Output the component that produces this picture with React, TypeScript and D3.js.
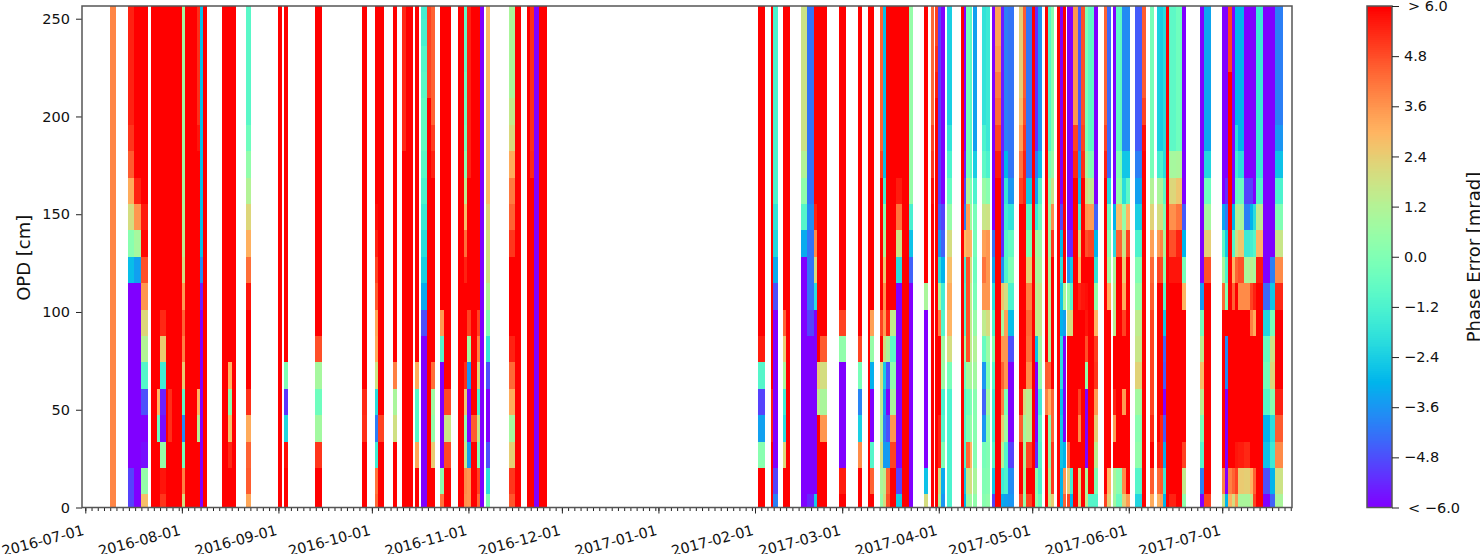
import { useEffect, useRef } from 'react';
import * as d3 from 'd3';

const W = 1480, H = 554;
const plot = { left: 82, right: 1292, top: 6, bottom: 507.5 };
const bar = { left: 1367, right: 1392 };
const FONT = '"DejaVu Sans", sans-serif';

// OPD of each row, bottom to top [cm]
const opd = [0, 13.5, 27, 40.5, 54, 67.5, 81, 94.5, 108, 121.5, 135, 148.5, 162, 175.5, 189, 202.5, 216, 229.5, 243, 256.5];
const yTicks = [0, 50, 100, 150, 200, 250];
const barTicks = [-6, -4.8, -3.6, -2.4, -1.2, 0, 1.2, 2.4, 3.6, 4.8, 6];
const barLabels = ['< \u22126.0', '\u22124.8', '\u22123.6', '\u22122.4', '\u22121.2', '0.0', '1.2', '2.4', '3.6', '4.8', '> 6.0'];
const monthTicks = ['2016-07-01', '2016-08-01', '2016-09-01', '2016-10-01', '2016-11-01', '2016-12-01', '2017-01-01', '2017-02-01', '2017-03-01', '2017-04-01', '2017-05-01', '2017-06-01', '2017-07-01'];

const hi = [6, 6, 6, 6, 6, 6, 6, 6, 6, 6, 6, 6, 6, 6, 6, 6, 6, 6, 6, 6];
const lo = [-6, -6, -6, -6, -6, -6, -6, -6, -6, -6, -6, -6, -6, -6, -6, -6, -6, -6, -6, -6];

// observation spans, days after 2016-07-01
const obsSpans = [
  [8, 10], [13.7, 15.7], [15.7, 17.9], [17.9, 20], [21, 23], [23, 24], [24, 26], [26, 26.6], [26.6, 27.7], [27.7, 31],
  [31, 32], [32, 35.8], [35.8, 36.8], [36.8, 37.8], [37.8, 39], [43.9, 45.9], [45.9, 47], [47, 48.3], [51.6, 53.1], [61.9, 63.1], [63.8, 65.2],
  [73.7, 76.1], [88.8, 90.3], [93, 94.1], [94.1, 96], [98.8, 100.1], [101.8, 102.9], [102.9, 105.2], [105.9, 107.2], [107.9, 109.8], [109.8, 111], [111, 112.3],
  [113.9, 115], [115, 117.3], [119.8, 121.7], [121.7, 122.7], [122.7, 123.8], [123.8, 125.7], [125.7, 126.6], [126.6, 127.9], [128.6, 130],
  [136, 137.9], [137.9, 140], [141.8, 142.8], [142.8, 143.9], [143.9, 145.8], [145.8, 148.2],
  [216, 218.3], [220, 220.9], [220.9, 222.3], [224, 225], [225, 226.3], [229.8, 231.8], [231.8, 233.8], [233.8, 234.9], [234.9, 236], [236, 238.2],
  [242, 244.3], [248, 249.4], [251.2, 251.8], [251.8, 253.2], [255, 256], [256, 257.1], [257.1, 258.2], [258.2, 260.3], [260.3, 262.3], [262.3, 264.3], [264.3, 265.7],
  [269.1, 270.4], [271.5, 272.5],
  [272.8, 273.8], [273.8, 274.8], [274.8, 276.1], [276.8, 278.1], [281, 282], [282, 282.9], [282.9, 283.9], [283.9, 284.8], [284.9, 286.3], [288, 289.1],
  [289.1, 290.4], [291, 292], [292, 294], [294, 295], [295, 296.1], [296.2, 298.2], [299.9, 301], [301, 302], [302, 304], [304, 304.9],
  [304.9, 305.8], [305.8, 307.3], [308, 309.1], [309.1, 310], [310, 311.1], [312, 313], [313, 314], [314, 315], [315.1, 316.1], [316.1, 317],
  [317, 318.8], [318.8, 319.8], [319.8, 320.8], [320.8, 321.8], [321.8, 323.8], [323.8, 325.2], [327, 327.9], [327.9, 329.3], [330, 331], [331, 332.9],
  [332.9, 334], [334, 335.3], [337, 339.2], [339.2, 340.5], [341.8, 343], [344, 345], [345, 346], [346, 347], [347, 348], [348, 350],
  [350, 352], [352, 353.3], [358, 359], [359, 361.4], [365, 366], [366, 367], [367, 368], [368, 369.2],
  [369.2, 370], [370, 372], [372, 374], [374, 375], [375, 376], [376, 378], [378, 380.2], [380.2, 382.1], [382.1, 384.5],
];

// phase error per span, OPD rows bottom to top [mrad]
const phaseError = [
  [3.9, 3.9, 3.9, 3.9, 3.9, 3.9, 3.9, 3.9, 3.9, 3.9, 3.9, 3.9, 3.9, 3.9, 3.9, 3.9, 3.9, 3.9, 3.9, 3.9],
  [-5, -5, -6, -6, -6, -6, -6, -6, -6, -2.8, 0.2, 2, 3.2, 4.6, 5.2, 5.5, 5.5, 5.5, 5.5, 5.5],
  [-6, -6, -6, -6, -6, -6, -6, -6, -6, -3.4, 0.9, 3.6, 5.5, 6, 6, 6, 6, 6, 6, 6],
  [2.8, 0.5, -5.8, -6, -4.8, -1, 1.2, 2.2, 3.6, 4.8, 5.9, 5.6, 6, 6, 6, 6, 6, 6, 6, 6],
  hi,
  [6, 6, 6, -0.5, 3, 6, 6, 6, 6, 6, 6, 6, 6, 6, 6, 6, 6, 6, 6, 6],
  [5.2, 5.7, 0.5, -5.8, -5.5, -1.5, 2.5, 5.4, 6, 6, 6, 6, 6, 6, 6, 6, 6, 6, 6, 6],
  hi,
  [6, 6, 6, 5.3, 5.3, 6, 6, 6, 6, 6, 6, 6, 6, 6, 6, 6, 6, 6, 6, 6],
  hi,
  [2, 4, -0.3, -3.8, -0.8, 2.5, 4, 4.5, 3.5, 2, 1.5, 1.2, 1, 0.8, 0.8, 0.8, 0.8, 0.8, 0.8, 0.8],
  hi,
  [6, 6, 6, 1.3, 3, 6, 6, 6, 6, 6, 6, 6, 6, 6, 5.7, 5.3, 5.3, 5.3, 5.3, 5.3],
  [-6, -6, -6, -6, -6, -6, -6, -6, -5.5, -3.8, -2.8, -2.8, -2.8, -2.8, -2.8, -2.8, -2.8, -2.8, -2.8, -2.8],
  hi,
  hi,
  [6, 6, 5.4, 2.7, 0.3, 3, 6, 6, 6, 6, 6, 6, 6, 6, 6, 6, 6, 6, 6, 6],
  hi,
  [3.3, 4.6, 4.5, 3.2, 5.3, 6, 6, 6, 5.7, 4.3, 3.1, 2.2, 1.2, 0.4, -0.4, -0.9, -0.9, -0.9, -0.9, -0.9],
  hi,
  [6, 6, 5.8, -2.2, -5.2, 0, 6, 6, 6, 6, 6, 6, 6, 6, 6, 6, 6, 6, 6, 6],
  [6, 6, 5.2, 0.8, -0.4, 0.9, 4.8, 6, 6, 6, 6, 6, 6, 6, 6, 6, 6, 6, 6, 6],
  [6, 6, 6, 5.3, 5.4, 6, 6, 6, 6, 6, 6, 6, 6, 6, 6, 6, 6, 6, 6, 6],
  [4.4, 4.2, -1.5, -4, -2, 1.8, 3.2, 3.3, 4.6, 5, 5.5, 5.8, 6, 6, 6, 6, 6, 6, 6, 6],
  [6, 6, 6, 5, 6, 6, 6, 6, 6, 6, 6, 6, 6, 6, 6, 6, 6, 6, 6, 6],
  [6, 6, 6, 1.9, 1, 4, 6, 6, 6, 6, 6, 6, 6, 6, 6, 6, 6, 6, 6, 6],
  [6, 6, 6, 6, 6, 6, 6, 6, 6, 6, 6, 6, 6, 6, 5.4, 5.4, 5.4, 5.4, 5.4, 5.4],
  hi,
  [6, 6, 3.3, -1, -1, 3.2, 6, 6, 6, 6, 6, 6, 6, 6, 6, 6, 6, 6, 6, 6],
  [-6, -6, -6, -6, -6, -6, -6, -4.8, -3.2, -2.4, -2, -1.6, -1.2, -0.9, -0.7, -0.7, -0.9, -1, -1.3, -1.4],
  [6, 6, 6, 6, 6, 6, 6, 6, 6, 6, 6, 6, 6, 6, 6, 6, 5, 5, 5, 5],
  [6, 6, 2.5, 0.5, 0.8, 4.3, 6, 6, 6, 6, 6, 6, 6, 5.5, 5.1, 4.5, 4.5, 4.5, 4.5, 4.5],
  [4.2, 0.3, -6, -6, -6, -6, -1, 3.5, 6, 6, 6, 6, 6, 6, 6, 6, 6, 6, 6, 6],
  [6, 6, 4.9, 1.8, 4.9, 6, 6, 6, 6, 6, 6, 6, 6, 6, 6, 6, 6, 6, 6, 6],
  hi,
  [3.7, 3.8, 1.5, 0.4, 2.5, 5.3, 6, 6, 6, 5.5, 4.3, 2.8, 1.5, 0.2, -0.3, -0.5, -0.6, -0.8, -0.8, -0.8],
  [3.6, 3.6, -3.5, -6, -6, -3.6, 0.8, 5, 6, 6, 6, 6, 6, 5.5, 5.5, 5.5, 5.5, 5.5, 5.5, 5.5],
  [6, 6, 6, 4.6, 6, 6, 6, 6, 6, 6, 6, 6, 6, 6, 6, 6, 6, 6, 6, 6],
  [4.4, 5, 0, 1.6, -1.2, 2.2, 4, 5, 6, 6, 6, 6, 6, 6, 6, 6, 6, 6, 6, 6],
  lo,
  [0, -2, -4.8, -6, -6, -4.8, -1.8, 0.1, 1.2, 1.9, 2, 2.3, 2.9, 2.9, 2.9, 2.9, 2.9, 2.9, 2.9, 2.9],
  [4.7, 5.2, 2.4, 0.9, 3.2, 4.4, 5.5, 6, 6, 6, 5.2, 4.5, 4.1, 3.2, 2.1, 1.6, 1, 1, 1, 1],
  hi,
  hi,
  [6, 6, 6, 6, 6, 6, 6, 6, 6, 6, 6, 6, 6, 5.4, 5.3, 5.3, 5.3, 5.3, 5.3, 5.3],
  lo,
  hi,
  [6, 6, 0.2, -3.4, -5, -1, 5.6, 6, 6, 6, 6, 6, 6, 6, 6, 6, 6, 6, 6, 6],
  [6, 6, 6, 5.5, 5.5, 6, 6, 6, 6, 6, 6, 6, 6, 6, 6, 6, 6, 6, 6, 6],
  [-4, -5, -6, -6, -6, -6, -6, -6, -4.8, -3.2, -2.2, -1.8, -1.2, -1.2, -1.2, -1.2, -1.2, -1.2, -1.2, -1.2],
  [6, 6, 2.2, -2, -1.5, 1, 2.5, 4.5, 6, 6, 6, 6, 6, 6, 6, 6, 6, 6, 6, 6],
  hi,
  [-6, -6, -6, -6, -6, -6, -6, -6, -6, -6, -3.2, -1, 0.4, 1.2, 1.8, 1.8, 1.8, 1.8, 1.8, 1.8],
  [-5.5, -6, -6, -6, -6, -6, -6, -5, -4.2, -4.2, -4.2, -3.8, -4.2, -4.2, -4.2, -4.2, -4.2, -4.2, -4.2, -4.2],
  [-2.5, -6, -6, -6, -6, -6, -6, -6, -2, 2, 3.8, 5.5, 6, 6, 6, 6, 6, 6, 6, 6],
  [6, 6, 6, 6, 1.5, 2.5, 6, 6, 6, 6, 6, 6, 6, 6, 6, 6, 6, 6, 6, 6],
  [6, 6, 6, 3.6, 1, 2, 4.6, 6, 6, 6, 6, 6, 6, 6, 6, 6, 6, 6, 6, 6],
  [6, 5.6, -6, -6, -6, -6, 0.4, 5, 6, 6, 6, 6, 6, 6, 6, 6, 6, 6, 6, 6],
  [6, 6, 3.8, -2.4, -3.9, -0.2, 5, 6, 6, 6, 6, 6, 6, 6, 6, 6, 6, 6, 6, 6],
  hi,
  [6, 4.5, -1, -6, -6, -3.1, 0.5, 3.4, 6, 6, 6, 6, 6, 6, 6, 6, 6, 6, 6, 6],
  [0.5, 1, 1.9, 0.9, 1.5, 2, 6, 5, 6, 6, 6, 6, 6, 5, 4.5, 4.5, 4.5, 4.5, 4.5, 4.5],
  [2, 1.5, -3.5, -4, -3.5, -2.5, 1.9, 3.5, 3.7, 2.5, 1, 0, -1.5, -2.8, -2.8, -2.8, -2.8, -2.8, -2.8, -2.8],
  [4.8, 4.5, -3.5, -4.8, -6, -4.8, 1, 5.5, 6, 6, 6, 6, 6, 6, 6, 6, 6, 6, 6, 6],
  [6, 6, 5, 3.6, 1, 0.4, -0.8, 1.6, 6, 6, 6, 6, 6, 6, 6, 6, 6, 6, 6, 6],
  [-2.5, -5, -6, -6, -6, -6, -6, -6, -6, -2, 1.8, 4.2, 5.6, 6, 6, 6, 6, 6, 6, 6],
  hi,
  [-6, -6, -6, -6, -6, -6, -6, -6, -6, -4.5, -2.7, -1.3, 0.5, 0.5, 0.5, 0.5, 0.5, 0.5, 0.5, 0.5],
  [2, -2.7, -6, -6, -6, -6, -6, -6, 1, 6, 6, 6, 6, 6, 6, 6, 6, 6, 6, 6],
  [6, 6, 6, 6, 6, 6, 6, 6, 6, 6, 6, 6, 5.8, 5.2, 5, 4.4, 4.4, 4.4, 4.4, 4.4],
  [6, 6, 6, 6, 6, 6, 6, 6, 6, 6, 6, 6, 6, 6, 6, 6, 5.6, 5.3, 5, 5],
  [1, 2, 5.5, 5.5, 6, 6, 6, 4, 1, -2, -3.6, -4.5, -5, -5, -5, -5, -5, -5, -5, -5],
  [-3.6, -3.2, 0, -1, -1.2, 0.7, 0.8, -1, -1.4, -3, -4.5, -5, -6, -6, -6, -6, -6, -6, -6, -6],
  [-1.2, -1.2, -1.2, -1.2, -1.2, -0.2, 2, 3, 3.2, 2.8, 2, 0.5, -0.6, -1.2, -1.8, -2.4, -2.4, -2.4, -2.4, -2.4],
  hi,
  [-3, -2.6, -1.2, -1, -1, -0.4, 0.6, -1, -1.2, -1.4, 2.8, -4, -5, -5.6, -6, -6, -6, -6, -6, -6],
  [0.6, 1.6, 4.4, 0, -0.4, 0.8, 4.8, 4.8, 4.8, 4.8, 3.2, 3.4, 1.2, -0.2, -0.2, -0.2, -0.2, -0.2, -0.2, -0.2],
  [0.8, 2, 3, 0.5, 0, 1, 1.5, 1.5, 1.5, 2, 3, 0.8, 0, -0.8, -0.8, -0.8, -0.8, -0.8, -0.8, -0.8],
  [0.4, 1, 0.2, 0.2, 0.2, 0.8, 1.2, 0.5, -0.2, -0.4, -0.2, -0.2, -1.2, -2.4, -3.4, -3.4, -3.4, -3.4, -3.4, -3.4],
  [0.2, 0, -0.2, -3.6, -4.5, -3.6, -0.6, 1.5, 3.6, 4.2, 3.4, 1.7, 0.6, -0.8, -1.2, -1.8, -1.8, -1.8, -1.8, -1.8],
  [0.4, 0.1, 0, 0.2, 0.8, 0, 0.6, 2, 3.6, 3.6, 3.6, 1.8, 0.2, -1.2, -1.6, -1.6, -1.6, -1.6, -1.6, -1.6],
  [-5, -2.6, -1, -1.5, -1.5, -1, 0, -1.2, -2, -3.4, -4.3, -6, -6, -6, -6, -6, -6, -6, -6, -6],
  [6, 6, 6, 6, 6, 6, 6, 6, 6, 6, 6, 6, 6, 5.6, 5, 4.4, 4.1, 3.6, 3.4, 3.4],
  [-3.2, -1.5, 1.2, 2.5, 4, 4.5, 3.6, 1, 2.6, -3.8, -5.4, -5.6, -5.6, -5.6, -5.6, -5.6, -5.6, -5.6, -5.6, -5.6],
  [-3.4, -1.2, -1, 0.8, 0, 3.6, 3.6, 3.4, 2, -1.1, -1, -1.5, -1.8, -3, -4, -4, -4, -4, -4, -4],
  [-3.6, -3.8, -5, -6, -6, -6, -4.8, -2.8, -1.2, 0, -0.6, -1.8, -3.6, -4.2, -4.2, -4.2, -4.2, -4.2, -4.2, -4.2],
  [5, 6, 6, 4.6, 5.8, 6, 6, 6, 6, 6, 6, 6, 5, 4.2, 3.4, 2.8, 2.4, 2.4, 2.4, 2.4],
  [0.4, 0.8, 1, 0.8, 2, 6, 6, 6, 6, 6, 6, 6, 5.5, 5.5, 5.2, 4.8, 4.6, 4.6, 4.6, 4.6],
  [5, 6, 5, 1.4, 1.4, 3.8, 4.3, 4.4, 4, 2.4, 0, -0.8, -2.6, -4.2, -4.2, -4.2, -4.2, -4.2, -4.2, -4.2],
  hi,
  [0.4, 0.2, -5.4, -6, -6, -6, -2.8, 1.6, 1.4, 1, 0.8, -1.6, -3.5, -4.2, -5.4, -5.4, -5.4, -5.4, -5.4, -5.4],
  [-0.6, -1.2, -1, -0.8, -1.5, 0.4, 0.8, 1.6, 1.6, 1, 0.6, -0.4, -1, -2.8, -3.6, -3.6, -3.6, -3.6, -3.6, -3.6],
  [6, 6, 6, 6, 4, 4.6, 6, 6, 6, 6, 6, 6, 6, 6, 6, 6, 6, 6, 6, 6],
  [1.5, 1, 0.3, 0.2, 3, 4.5, 1, 1.2, 1.2, 1, 0.6, 0.6, 0.2, -0.2, -1, -1, -1, -1, -1, -1],
  [2.5, 5.2, 5.2, 4.5, 4.5, 6, 6, 6, 6, 6, 5.2, 3.8, 1.8, 0.6, 0.2, 0.2, 0.2, 0.2, 0.2, 0.2],
  hi,
  [-3, -3, -2.6, -2.6, -2.8, -2, -2, -3, -2.6, -2, -3, -5, -6, -6, -6, -6, -6, -6, -6, -6],
  [4.5, 3.6, -3, -6, -6, -6, -6, -3.4, 1, 6, 6, 6, 6, 6, 6, 6, 6, 6, 6, 6],
  [5, 2.4, 4.5, 6, 6, 6, 6, 2, 0.6, -3.6, -5.4, -6, -6, -6, -6, -6, -6, -6, -6, -6],
  [-3, -1.4, 6, 6, 6, 6, 6, 2, -1, -2.6, -5.4, -6, -6, -6, -6, -6, -6, -6, -6, -6],
  [6, 6, 6, 6, 6, 6, 6, 6, 6, 6, 6, 6, 6, 5.4, 5, 3.6, 3.6, 3.6, 3.6, 3.6],
  [2, 1.8, 6, 3.8, 5, 6, 6, 6, 5.5, 3, 2, -1.3, -2.8, -3.6, -4.6, -4.6, -4.6, -4.6, -4.6, -4.6],
  [6, 6, 6, 6, 6, 6, 6, 6, 5.7, 6, 6, 6, 6, 5.3, 5, 4.8, 4.8, 4.8, 4.8, 4.8],
  [1.5, 1, -6, -6, -6, 0.4, 4.8, 5.7, 5.8, 6, 4.8, 3.6, 2, 1, 0, 0, 0, 0, 0, 0],
  [-1, 6, 6, 6, 6, 6, 6, 6, 6, 6, 5, 3.5, 1.5, 0, -0.8, -0.8, -0.8, -0.8, -0.8, -0.8],
  [-1, 0, 1.4, 2.4, 3.5, 5.2, 5.1, 3, 0.4, -1.8, -3, -4.5, -6, -6, -6, -6, -6, -6, -6, -6],
  [5, 6, 6, 6, 6, 6, 6, 6, 6, 6, 6, 6, 6, 5.5, 5, 4.5, 4.5, 4.5, 4.5, 4.5],
  [2.4, 3, 6, 6, 6, 6, 6, 6, 3.2, 0.8, 0.2, -0.5, -2.2, -4.4, -4.4, -4.4, -4.4, -4.4, -4.4, -4.4],
  [0.8, 1, 6, 3.5, 5.5, 6, 6, 1.5, 1.5, 1, -2, -3, -6, -6, -6, -6, -6, -6, -6, -6],
  [-0.5, 0.2, 6, 6, 6, 6, 6, 6, 6, 6, 4.5, 2.8, 0.4, 0, -0.8, -0.8, -0.8, -0.8, -0.8, -0.8],
  [2.4, 3.8, 6, 6, 3.5, 6, 6, 5, 3.2, 2.5, 1.7, 0.5, -2, -2.6, -3.8, -3.8, -3.8, -3.8, -3.8, -3.8],
  [3.5, 6, 6, 6, 6, 6, 6, 6, 6, 6, 5, 3, -0.8, -2.6, -3.8, -3.8, -3.8, -3.8, -3.8, -3.8],
  [-2.2, -1, 0.4, 0.2, 0.8, 2.3, 1.7, 1.5, 0.6, 0, -1.2, -2.4, -3.4, -4, -4.6, -4.6, -4.6, -4.6, -4.6, -4.6],
  [6, 6, 6, 6, 6, 6, 6, 6, 6, 6, 6, 6, 6, 6, 5.8, 5, 4.6, 4.6, 4.6, 4.6],
  [3.2, 4.6, 6, 5.4, 5, 5, 5, 5, 4.6, 4.4, 3.4, 2.3, 1.2, -0.2, -0.2, -0.2, -0.2, -0.2, -0.2, -0.2],
  [3, 4.4, 5.6, 6, 6, 6, 6, 6, 6, 5, 3.5, 2, 1, -1.4, -2.4, -2.4, -2.4, -2.4, -2.4, -2.4],
  [3.4, 4.6, 5.4, 5.4, 6, 6, 6, 6, 6, 4.9, 3.9, 2, 1, -1.2, -2.4, -2.4, -2.4, -2.4, -2.4, -2.4],
  [-3, -1.6, -3.2, -4.6, -6, -4.6, -4.4, -2.6, -1, 0.2, 1, 0, -0.8, -2, -2, -2, -2, -2, -2, -2],
  hi,
  [5.5, 6, 6, 6, 6, 6, 6, 6, 6, 5.7, 4.8, 3.7, 2.2, 0.9, -0.8, -0.8, -0.8, -0.8, -0.8, -0.8],
  [6, 6, 6, 6, 6, 6, 6, 6, 6, 5.7, 5.5, 4.2, 2.6, 1, -0.4, -0.4, -0.4, -0.4, -0.4, -0.4],
  [0.4, 1.6, 5, 6, 6, 6, 6, 6, 3, -0.2, -3, -4.6, -6, -6, -6, -6, -6, -6, -6, -6],
  [-6, -4, -1, -0.2, 1.4, 2.8, 1.4, -0.3, -3.5, -6, -6, -6, -6, -6, -6, -6, -6, -6, -6, -6],
  [5, 6, 6, 6, 6, 6, 6, 6, 6, 4.8, 2.4, 0.9, -0.4, -2.2, -3.3, -3.3, -3.3, -3.3, -3.3, -3.3],
  [1.8, 4, 6, 6, 6, 6, 6, 6, 4.4, 1, -0.8, -3.3, -6, -6, -6, -6, -6, -6, -6, -6],
  [-3, -6, -6, -6, -6, -3.8, -3.8, 6, 0, -1.2, -2.5, -4, -5.4, -6, -6, -6, -6, -6, -6, -6],
  [3, 4, 6, 6, 6, 6, 6, 6, 6, 6, 6, 6, 6, 6, 6, 6, 6, 5, 5, 5],
  [2, 4.5, 6, 6, 6, 6, 6, 6, 4.5, 3, -1, -3, -6, -6, -6, -6, -6, -6, -6, -6],
  [3.5, 5, 5.7, 6, 6, 6, 6, 6, 6, 4.5, 2, 1.3, -0.6, -1.4, -2, -3, -3, -3, -3, -3],
  [1, 2.5, 5.6, 6, 6, 6, 6, 6, 3.8, 4.8, 2.6, 1, -0.5, -2, -3, -3, -3, -3, -3, -3],
  [1, 2.4, 5.4, 6, 6, 6, 6, 6, 3.8, 1, -1.6, -4, -5, -6, -6, -6, -6, -6, -6, -6],
  [1.5, 3, 6, 6, 6, 6, 6, 4, 5, 1.4, -1.4, -3, -5, -6, -6, -6, -6, -6, -6, -6],
  [5, 4.5, 6, 6, 6, 6, 6, 3.2, 5.5, 1, -1, -2, -6, -6, -6, -6, -6, -6, -6, -6],
  [6, 6, 6, 6, 6, 6, 6, 6, 6, 5.6, 3, 1.5, -1, -1.6, -1.6, -1.6, -1.6, -1.6, -1.6, -1.6],
  [-6, -4.8, -2.7, -3, -1, -0.3, -0.6, -2.2, -4.4, -6, -6, -6, -6, -6, -6, -6, -6, -6, -6, -6],
  [-4.5, -3, -1.6, -2, 0.2, 2.2, 1.8, -0.2, -2.6, -4, -6, -6, -6, -6, -6, -6, -6, -6, -6, -6],
  [1, 1.8, 3.8, 4.6, 5.5, 6, 6, 6, 5.4, 3.8, 1.7, 0, -1.2, -2.7, -3.6, -4, -4, -4, -4, -4],
];

// matplotlib "rainbow" colormap
const rainbow = (t: number) =>
  d3.rgb(
    255 * Math.min(1, Math.abs(2 * t - 0.5)),
    255 * Math.sin(Math.PI * t),
    255 * Math.cos((Math.PI * t) / 2),
  ).formatHex();

const day0 = d3.utcParse('%Y-%m-%d')('2016-07-01') as Date;
const dateAt = (days: number) => new Date(day0.getTime() + days * 864e5);

function App() {
  const node = useRef<SVGSVGElement>(null);
  useEffect(() => {
    if (!node.current) return;
    const svg = d3.select(node.current);
    svg.selectAll('*').remove();
    svg.attr('font-family', FONT);

    const x = d3.scaleUtc().domain([dateAt(-1.06), dateAt(387.4)]).range([plot.left, plot.right]);
    const y = d3.scaleLinear().domain([0, 256.5]).range([plot.bottom, plot.top]);
    const color = d3.scaleSequential(rainbow).domain([-6, 6]);

    // row edges sit halfway between OPD samples
    const edge = (i: number) => (i <= 0 ? 0 : i >= opd.length ? opd[opd.length - 1] : (opd[i - 1] + opd[i]) / 2);

    svg.append('rect').attr('x', plot.left).attr('y', plot.top)
      .attr('width', plot.right - plot.left).attr('height', plot.bottom - plot.top).attr('fill', '#fff');

    const cols = svg.append('g').attr('shape-rendering', 'crispEdges');
    obsSpans.forEach((span, c) => {
      cols.selectAll(null)
        .data(phaseError[c])
        .enter()
        .append('rect')
        .attr('x', x(dateAt(span[0])))
        .attr('width', x(dateAt(span[1])) - x(dateAt(span[0])))
        .attr('y', (_, i) => y(edge(i + 1)))
        .attr('height', (_, i) => y(edge(i)) - y(edge(i + 1)))
        .attr('fill', d => color(d));
    });

    // x axis
    const [t0, t1] = x.domain();
    const minor = d3.utcDay.range(t0, t1).filter(d => d.getUTCDate() % 2 === 1);
    const majors = monthTicks.map(d => d3.utcParse('%Y-%m-%d')(d) as Date);
    const xMinor = svg.append('g').attr('transform', `translate(0,${plot.bottom})`)
      .call(d3.axisBottom(x).tickValues(minor).tickSize(3.5).tickFormat(() => ''));
    const xMajor = svg.append('g').attr('transform', `translate(0,${plot.bottom})`)
      .call(d3.axisBottom(x).tickValues(majors).tickSize(6).tickFormat(d3.utcFormat('%Y-%m-%d') as any));
    xMajor.selectAll('text')
      .attr('font-size', 14.5).attr('fill', '#111')
      .attr('text-anchor', 'end')
      .attr('transform', 'translate(-1,27) rotate(-15)')
      .attr('x', 0).attr('y', 0).attr('dx', 0).attr('dy', 0);

    // y axis
    const yAxis = svg.append('g').attr('transform', `translate(${plot.left},0)`)
      .call(d3.axisLeft(y).tickValues(yTicks).tickSize(6).tickPadding(6));
    yAxis.selectAll('text').attr('font-size', 14.5).attr('fill', '#111');
    svg.append('text')
      .attr('transform', `translate(30,${(plot.top + plot.bottom) / 2 + 1}) rotate(-90)`)
      .attr('text-anchor', 'middle').attr('font-size', 18).attr('fill', '#111')
      .text('OPD [cm]');

    [xMinor, xMajor, yAxis].forEach(g => {
      g.attr('font-family', FONT);
      g.select('.domain').remove();
      g.selectAll('line').attr('stroke', '#222').attr('stroke-width', 1);
    });

    // frame
    svg.append('rect').attr('x', plot.left).attr('y', plot.top)
      .attr('width', plot.right - plot.left).attr('height', plot.bottom - plot.top)
      .attr('fill', 'none').attr('stroke', '#555').attr('stroke-width', 1.5);

    // colour bar
    const cbY = d3.scaleLinear().domain([-6, 6]).range([plot.bottom, plot.top]);
    const steps = d3.range(256);
    svg.append('g').attr('shape-rendering', 'crispEdges')
      .selectAll('rect').data(steps).enter().append('rect')
      .attr('x', bar.left).attr('width', bar.right - bar.left)
      .attr('y', d => cbY(-6 + ((d + 1) / 256) * 12))
      .attr('height', (plot.bottom - plot.top) / 256 + 0.6)
      .attr('fill', d => rainbow(d / 255));
    svg.append('rect').attr('x', bar.left).attr('y', plot.top)
      .attr('width', bar.right - bar.left).attr('height', plot.bottom - plot.top)
      .attr('fill', 'none').attr('stroke', '#555').attr('stroke-width', 1.5);
    const cbAxis = svg.append('g').attr('transform', `translate(${bar.right},0)`)
      .call(d3.axisRight(cbY).tickValues(barTicks).tickSize(7).tickPadding(5)
        .tickFormat((_, i) => barLabels[i]));
    cbAxis.attr('font-family', FONT);
    cbAxis.select('.domain').remove();
    cbAxis.selectAll('line').attr('stroke', '#222').attr('stroke-width', 1);
    cbAxis.selectAll('text').attr('font-size', 14.5).attr('fill', '#111')
      .attr('dx', (_, i) => (i === 0 || i === barTicks.length - 1 ? 4 : 0));
    svg.append('text')
      .attr('transform', `translate(1480,${257}) rotate(-90)`)
      .attr('text-anchor', 'middle').attr('font-size', 18).attr('fill', '#111')
      .text('Phase Error [mrad]');
  }, [node]);

  return <svg ref={node} width={W} height={H} style={{ position: 'absolute', left: 0, top: 0, background: '#fff' }} />;
}

export default App;
